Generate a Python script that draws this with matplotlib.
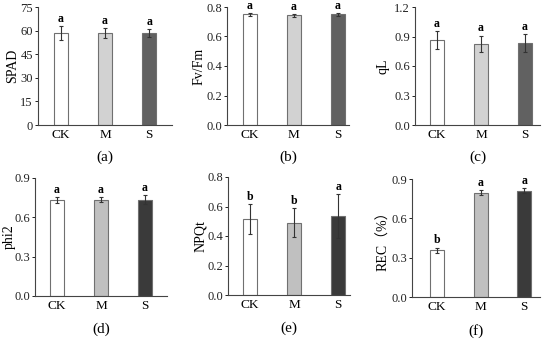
import numpy as np
import matplotlib.pyplot as plt

plt.rcParams['font.family'] = ['Liberation Serif', 'Noto Sans CJK SC', 'DejaVu Serif']

groups = ['CK', 'M', 'S']

spad = [58.5, 58.5, 58.3]
spad_err = [4.5, 3.3, 2.6]
fvfm = [0.75, 0.743, 0.75]
fvfm_err = [0.01, 0.01, 0.008]
ql = [0.865, 0.826, 0.833]
ql_err = [0.09, 0.083, 0.095]
phi2 = [0.735, 0.735, 0.735]
phi2_err = [0.022, 0.02, 0.036]
npqt = [0.514, 0.491, 0.534]
npqt_err = [0.1, 0.1, 0.15]
rec = [0.357, 0.795, 0.811]
rec_err = [0.02, 0.02, 0.02]

top_colors = ['white', '#d2d2d2', '#616161']
bottom_colors = ['white', '#c0c0c0', '#3a3a3a']

panels = [
    # values, errors, letters, ylabel, ymax, step, colours, tag,
    # pixel box (x0, x1, ytop, ybot), xlim, decimals, ylabel right edge (px)
    (spad, spad_err, ['a', 'a', 'a'], 'SPAD', 75, 15, top_colors, '(a)', (38, 172, 7, 125), (-0.52, 2.52), 0, 19),
    (fvfm, fvfm_err, ['a', 'a', 'a'], 'Fv/Fm', 0.8, 0.2, top_colors, '(b)', (227, 349, 7, 125), (-0.52, 2.25), 1, 206),
    (ql, ql_err, ['a', 'a', 'a'], 'qL', 1.2, 0.3, top_colors, '(c)', (415, 540, 7, 125), (-0.5, 2.34), 1, 389),
    (phi2, phi2_err, ['a', 'a', 'a'], 'phi2', 0.9, 0.3, bottom_colors, '(d)', (35, 167, 178, 296), (-0.5, 2.5), 1, 16),
    (npqt, npqt_err, ['b', 'b', 'a'], 'NPQt', 0.8, 0.2, bottom_colors, '(e)', (228, 350, 177, 295), (-0.5, 2.27), 1, 207),
    (rec, rec_err, ['b', 'a', 'a'], 'REC\uff08%\uff09', 0.9, 0.3, bottom_colors, '(f)', (412, 540, 179, 297), (-0.57, 2.36), 1, 390),
]

W, H = 550, 339
fig = plt.figure(figsize=(5.5, 3.39), dpi=100)

for i, (vals, errs, letters, ylab, ymax, step, colors, tag, box, xlim, dec, lab_x) in enumerate(panels):
    x0, x1, yt, yb = box
    ax = fig.add_axes([x0 / W, 1 - yb / H, (x1 - x0) / W, (yb - yt) / H])
    x = np.arange(len(groups))
    ax.bar(x, vals, width=0.32, color=colors, edgecolor='#707070', linewidth=0.8, zorder=2)
    ax.errorbar(x, vals, yerr=errs, fmt='none', ecolor='#333333', elinewidth=0.8,
                capsize=1.5, capthick=0.8, zorder=3)
    for xi, v, e, l in zip(x, vals, errs, letters):
        ax.text(xi, v + e + ymax * 0.01, l, ha='center', va='bottom',
                fontsize=8.5, fontweight='bold')
    ax.set_ylim(0, ymax)
    ax.set_xlim(*xlim)
    ticks = np.arange(0, ymax + step / 2, step)
    ax.set_yticks(ticks)
    if dec:
        ax.set_yticklabels(['%.1f' % t for t in ticks])
    else:
        ax.set_yticklabels(['%d' % t for t in ticks])
    ax.set_xticks(x)
    ax.set_xticklabels(groups)
    ax.tick_params(axis='x', length=0, labelsize=9.5, pad=3)
    ax.tick_params(axis='y', length=2.5, width=0.7, labelsize=9, pad=1.2, colors='#222222')
    ax.set_ylabel(ylab, fontsize=10)
    ax.yaxis.set_label_coords((lab_x - x0) / (x1 - x0), 0.5)
    for s in ['top', 'right']:
        ax.spines[s].set_visible(False)
    for s in ['left', 'bottom']:
        ax.spines[s].set_linewidth(0.8)
        ax.spines[s].set_color('#444444')
    ty = -0.27 if i < 3 else -0.285
    ax.text(0.5, ty, tag, transform=ax.transAxes, ha='center', va='center', fontsize=11)

fig.savefig('out.png', dpi=100)
